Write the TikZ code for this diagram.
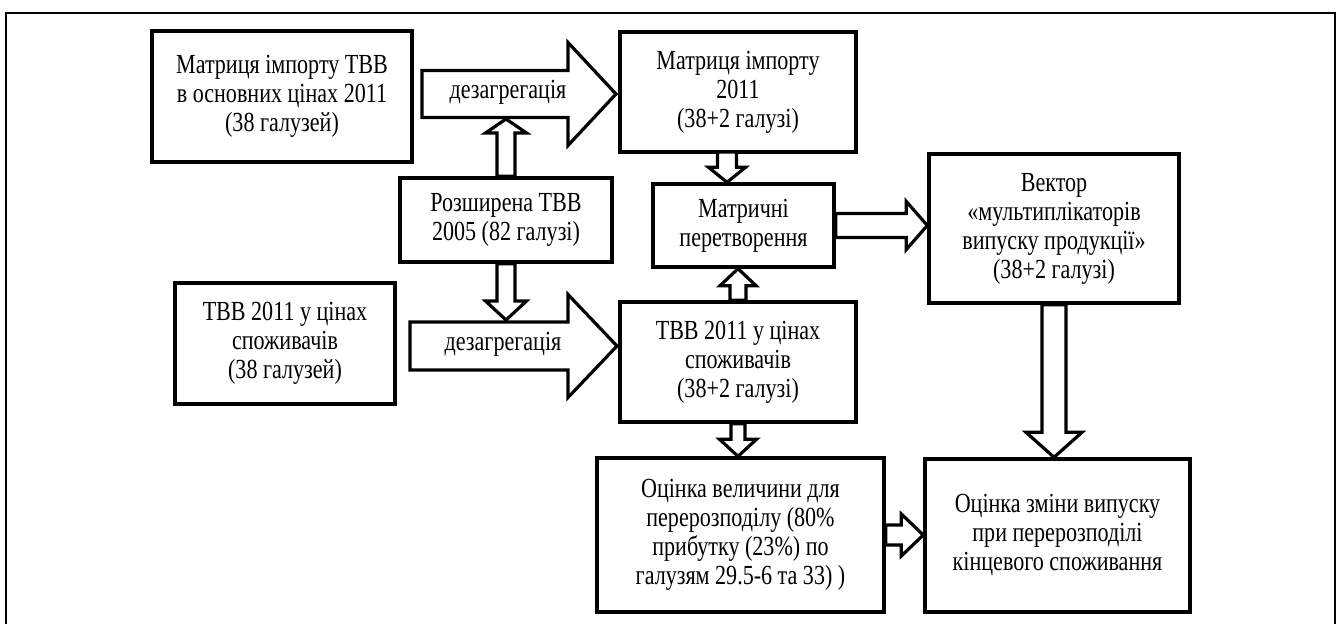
\documentclass[tikz,border=0pt]{standalone}
\usepackage{fontspec}
\setmainfont{Liberation Serif}[FakeStretch=0.8]
\usetikzlibrary{calc}
\newcommand{\blockarrow}[5]{%
  \path ($(#2)!#5!(#1)$) coordinate (hb);
  \draw[arrowline] ($(#1)!#3!90:(#2)$) -- ($(hb)!#3!90:(#2)$) -- ($(hb)!#4!90:(#2)$) -- (#2)
    -- ($(hb)!#4!-90:(#2)$) -- ($(hb)!#3!-90:(#2)$) -- ($(#1)!#3!-90:(#2)$) -- cycle;
}
\begin{document}
\begin{tikzpicture}[x=0.5pt,y=-0.5pt]
                \tikzset{every node/.style={font=\fontsize{13.8}{14.5}\selectfont, align=center},
                    box/.style={draw, line width=1.7pt, inner sep=0pt},
                    arrowline/.style={draw, fill=white, line width=1.6pt, line join=miter}}
                \useasboundingbox (0,0) rectangle (1338,624);
                \draw[line width=1pt] (6,650) -- (6,13) -- (1335,13) -- (1335,650);
                \node[box, minimum width=130pt, minimum height=65.5pt] (A) at (282,96.5) {Матриця імпорту ТВВ\\в основних цінах 2011\\(38 галузей)};
                \node[box, minimum width=118pt, minimum height=60pt] (imp) at (738,92) {Матриця імпорту\\2011\\(38+2 галузі)};
                \node[box, minimum width=106pt, minimum height=42pt] (ros) at (506,220) {Розширена ТВВ\\2005 (82 галузі)};
                \node[box, minimum width=90.5pt, minimum height=41.5pt] (mat) at (743.5,225.5) {Матричні\\перетворення};
                \node[box, minimum width=125pt, minimum height=74.5pt] (vec) at (1054,228.5) {Вектор\\«мультиплікаторів\\випуску продукції»\\(38+2 галузі)};
                \node[box, minimum width=110pt, minimum height=60.5pt] (tbbA) at (285,343.5) {ТВВ 2011 у цінах\\споживачів\\(38 галузей)};
                \node[box, minimum width=118pt, minimum height=60pt] (tbbB) at (738,362) {ТВВ 2011 у цінах\\споживачів\\(38+2 галузі)};
                \node[box, minimum width=143.5pt, minimum height=77pt] (est) at (740.5,535) {Оцінка величини для\\перерозподілу (80\%\\прибутку (23\%) по\\галузям 29.5-6 та 33) )};
                \node[box, minimum width=132.5pt, minimum height=76.5pt] (chg) at (1057.5,535.5) {Оцінка зміни випуску\\при перерозподілі\\кінцевого споживання};
                \coordinate (dzAs) at (422,94);
                \coordinate (dzAe) at (616,94);
                \coordinate (dzAb) at (495,119);
                \coordinate (dzBs) at (410,346);
                \coordinate (dzBe) at (617,346);
                \coordinate (dzBt) at (500,320);
                \coordinate (im) at (727,152);
                \blockarrow{dzAs}{dzAe}{11.75pt}{25.75pt}{24pt}
                \blockarrow{dzBs}{dzBe}{12pt}{25.75pt}{24.5pt}
                \blockarrow{ros.north}{ros.north |- dzAb}{4.5pt}{10.25pt}{7pt}
                \blockarrow{ros.south}{ros.south |- dzBt}{4.5pt}{10.25pt}{9.5pt}
                \blockarrow{im}{im |- mat.north}{4.75pt}{9.25pt}{7.5pt}
                \blockarrow{tbbB.north}{tbbB.north |- mat.south}{4pt}{9pt}{8.5pt}
                \blockarrow{mat.east}{mat.east -| vec.west}{6pt}{12pt}{10.5pt}
                \blockarrow{tbbB.south}{tbbB.south |- est.north}{3.5pt}{9.25pt}{8.5pt}
                \blockarrow{est.east}{est.east -| chg.west}{5pt}{10.5pt}{11pt}
                \blockarrow{vec.south}{vec.south |- chg.north}{6pt}{14pt}{12.5pt}
                \node (dzA) at (508,92) {дезагрегація};
                \node (dzB) at (503,344) {дезагрегація};
            \end{tikzpicture}
\end{document}
